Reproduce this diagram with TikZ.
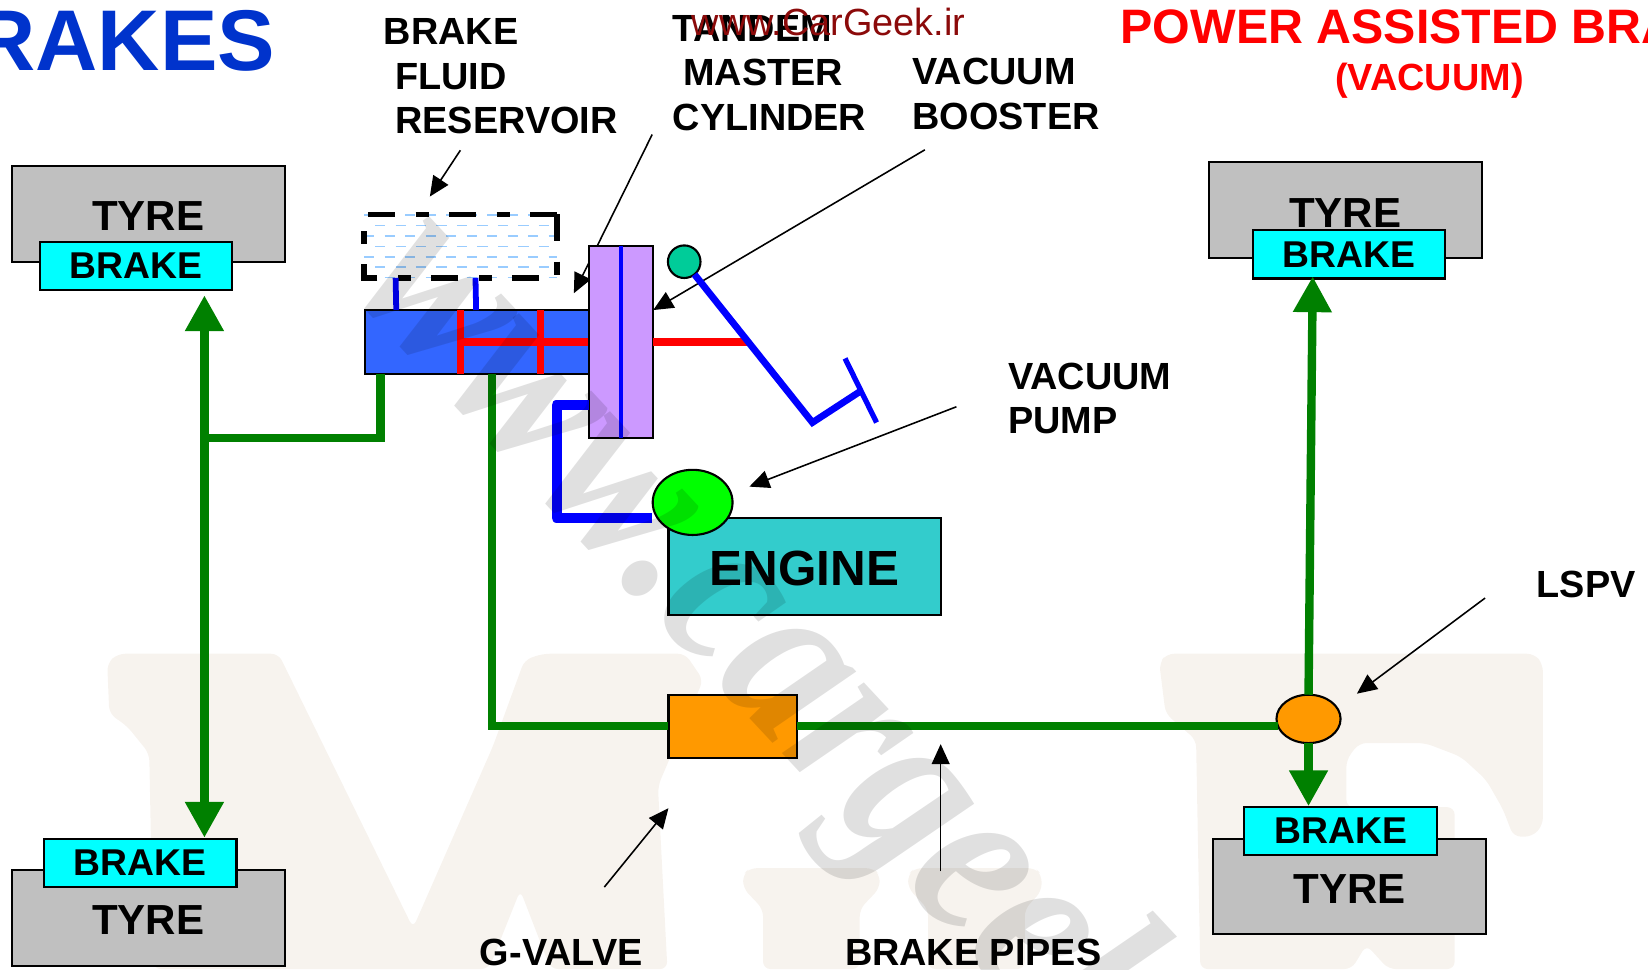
\documentclass[tikz,border=0pt]{standalone}
\usepackage{xcolor,tikz}
\usepackage{fontspec}
\setmainfont{Liberation Sans}
\newfontfamily\markfont{Liberation Serif}
\usetikzlibrary{positioning,calc,arrows.meta,shapes.geometric}
\definecolor{brkTitleBlue}{HTML}{0033CC}
\definecolor{brkSiteRed}{HTML}{8B0A0A}
\definecolor{brkTyreGrey}{HTML}{C0C0C0}
\definecolor{brkCyan}{HTML}{00FFFF}
\definecolor{brkEngine}{HTML}{33CCCC}
\definecolor{brkOrange}{HTML}{FF9900}
\definecolor{brkCylBlue}{HTML}{3366FF}
\definecolor{brkBoosterPurple}{HTML}{CC99FF}
\definecolor{brkPipeGreen}{HTML}{008000}
\definecolor{brkPivot}{HTML}{00CC99}
\definecolor{brkFluid}{HTML}{99CCFF}
\definecolor{brkBackLetter}{HTML}{F7F3EE}
\def\tyreW{260}   % tyre block width
\def\tyreH{91}    % tyre block height
\def\brakeW{183}  % brake block width
\def\brakeH{46}   % brake block height
\tikzset{
  solid box/.style={
    rectangle, draw=black, line width=2pt, fill=#1,
    inner sep=0pt, outer sep=0pt, anchor=north west,
  },
  tyre box/.style={
    solid box=brkTyreGrey,
    minimum width=\tyreW pt, minimum height=\tyreH pt,
    text height=32pt,
    font=\fontsize{40}{40}\selectfont\bfseries,
  },
  brake box/.style={
    solid box=brkCyan,
    minimum width=\brakeW pt, minimum height=\brakeH pt,
    font=\fontsize{35.5}{35.5}\selectfont\bfseries,
  },
  round part/.style={
    ellipse, draw=black, line width=2pt, fill=#1,
    inner sep=0pt, outer sep=0pt,
  },
  part label/.style={
    anchor=north west, align=left, inner sep=0pt,
    font=\fontsize{36}{42.5}\selectfont\bfseries,
  },
  green pipe/.style={draw=brkPipeGreen, line width=8pt},
  blue line/.style={draw=blue, line width=#1},
  red rod/.style={draw=red, line width=7pt},
  flow tip/.style={{Triangle[length=34pt,width=35pt]}-{Triangle[length=34pt,width=35pt]}},
  flow end/.style={-{Triangle[length=34pt,width=35pt]}},
  callout/.style={
    draw=black, line width=1.5pt,
    -{Triangle[length=19pt,width=17pt]},
  },
  back letter/.style={fill=brkBackLetter, rounded corners=7pt},
}

\begin{document}
\begin{tikzpicture}[x=1pt,y=-1pt]
\useasboundingbox (0,0) rectangle (1568,922);

% --- pale letters behind everything ---
\fill[back letter] (104,679) -- (102,631) -- (112,622) -- (265,622) -- (393,883) -- (469,710) -- (499,628)
  -- (516,622) -- (652,622) -- (669,647) -- (626,748) -- (635,922) -- (524,922) -- (495,847) -- (465,922)
  -- (146,922) -- (142,717) -- (121,691) -- cycle;
\fill[back letter] (707,832) -- (713,826) -- (831,826) -- (837,832) -- (837,845) -- (818,865) -- (818,922)
  -- (726,922) -- (726,865) -- (707,845) -- cycle;
\fill[back letter] (864,832) -- (870,826) -- (985,826) -- (991,832) -- (991,848) -- (975,865) -- (975,922)
  -- (883,922) -- (883,865) -- (864,845) -- cycle;
\fill[back letter] (1103,631) -- (1110,622) -- (1460,622) -- (1468,632) -- (1468,785) -- (1458,796) -- (1440,796)
  -- (1430,770) -- (1414,742) -- (1390,720) -- (1356,707) -- (1293,707) -- (1281,723) -- (1281,768) -- (1384,768)
  -- (1384,922) -- (1321,922) -- (1300,899) -- (1286,922) -- (1142,922) -- (1138,704) -- (1109,679) -- cycle;

% --- titles ---
\node[anchor=base east, inner sep=0pt, text=brkTitleBlue, font=\fontsize{82}{82}\selectfont\bfseries]
  (titleLeft) at (262,67) {RAKES};
\node[anchor=base west, inner sep=0pt, text=red, font=\fontsize{46}{46}\selectfont\bfseries]
  (titleRight) at (1066,41.5) {POWER ASSISTED BRA};
\node[anchor=base, inner sep=0pt, text=red, font=\fontsize{36}{36}\selectfont\bfseries]
  (titleSub) at (1360,86) {(VACUUM)};

% --- tyres and brakes, top left / bottom left / top right / bottom right ---
\node[tyre box] (tyreTL) at (11,158) {TYRE};
\node[brake box] (brakeTL) at (38,230) {BRAKE};
\node[tyre box] (tyreBL) at (11,828) {TYRE};
\node[brake box] (brakeBL) at (42,798) {BRAKE};
\node[tyre box] (tyreTR) at (1150,154.5) {TYRE};
\node[brake box] (brakeTR) at (1192,219) {BRAKE};
\node[tyre box] (tyreBR) at (1154,798) {TYRE};
\node[brake box] (brakeBR) at (1184,767.5) {BRAKE};

% --- callouts that pass behind the parts ---
\coordinate (reservoirTail) at (438,143);
\coordinate (reservoirTip) at (409,187);
\coordinate (tandemTail) at (620.5,128);
\coordinate (tandemTip) at (546,279);
\coordinate (boosterTail) at (880,142.5);
\coordinate (boosterTip) at (621.5,295);
\coordinate (pumpTail) at (910,387);
\coordinate (pumpTip) at (713,463);
\coordinate (lspvTail) at (1413,569);
\coordinate (lspvTip) at (1291,660);
\coordinate (gvalveTail) at (575,844);
\coordinate (gvalveTip) at (636,769);
\coordinate (pipesTail) at (895,829);
\coordinate (pipesTip) at (895,708);
\draw[callout] (reservoirTail) -- (reservoirTip);
\draw[callout] (tandemTail) -- (tandemTip);
\draw[callout] (boosterTail) -- (boosterTip);
\draw[callout] (pumpTail) -- (pumpTip);
\draw[callout] (lspvTail) -- (lspvTip);
\draw[callout] (gvalveTail) -- (gvalveTip);
\draw[callout] (pipesTail) -- (pipesTip);

% --- reservoir with its fluid rows ---
\node[rectangle, inner sep=0pt, outer sep=0pt, anchor=north west,
      minimum width=183.3pt, minimum height=60.3pt]
  (reservoir) at (346.4,204) {};
\foreach \rowY/\rowX/\rowEnd in {204.6/346.4/530,214.6/356.8/523,224.6/346.4/530,234.6/356.8/523,
                                 244.4/346.4/530,254.3/356.8/523,264/346.4/530}{
  \draw[draw=brkFluid, line width=1.5pt, dash pattern=on 9.75pt off 9.75pt]
    (\rowX,\rowY) -- (\rowEnd,\rowY);
}
\draw[draw=black, line width=5.5pt, dash pattern=on 25.5pt off 19.5pt on 12.5pt off 19.5pt]
  (reservoir.north east) -- (reservoir.south east) -- (reservoir.south west) -- (reservoir.north west) -- cycle;

% --- master cylinder, booster, pump, engine ---
\node[solid box=brkCylBlue, minimum width=213pt, minimum height=61pt] (masterCyl) at (347,295) {};
\draw[blue line=5.5pt] ([xshift=30pt]reservoir.south west) -- ([xshift=30pt]masterCyl.north west);
\draw[blue line=5.5pt] ([xshift=106pt]reservoir.south west) -- ([xshift=106pt]masterCyl.north west);
\draw[red rod] ([xshift=91pt]masterCyl.north west) -- ([xshift=91pt]masterCyl.south west);
\draw[red rod] ([xshift=167pt]masterCyl.north west) -- ([xshift=167pt]masterCyl.south west);
\draw[red rod] ([xshift=91pt]masterCyl.west) -- (masterCyl.east);

\node[solid box=brkBoosterPurple, minimum width=61pt, minimum height=183pt] (booster) at (560,234) {};
\draw[blue line=4pt] (booster.north) -- (booster.south);

\coordinate (pedalJoin) at (712,325.5);
\coordinate (pedalKnee) at (773,402);
\coordinate (pedalFoot) at (819,372);
\coordinate (padTop) at (804,341);
\coordinate (padLow) at (834,402);
\node[round part=brkPivot, minimum width=31pt, minimum height=31pt] (pivot) at (651,249) {};
\draw[red rod] (booster.east) -- (pedalJoin);
\draw[blue line=6.5pt, line join=miter] (pivot.-51) -- (pedalKnee) -- (pedalFoot);
\draw[blue line=5pt] (padTop) -- (padLow);

\node[solid box=brkEngine, minimum width=259pt, minimum height=92pt, text height=37pt,
      font=\fontsize{47}{47}\selectfont\bfseries] (engine) at (636,493) {ENGINE};
\coordinate (vacuumIn) at (620.6,493);
\draw[blue line=9.5pt, line join=round] ([yshift=-151pt]booster.north west) -| (529.5,493) -- (vacuumIn);
\node[round part=green, minimum width=76pt, minimum height=62pt] (pump) at (659,478) {};

% --- brake pipes ---
\coordinate (frontJoin) at (197,417);
\coordinate (leftTip) at (194.5,281);
\coordinate (leftLow) at (194.5,797);
\coordinate (rightTip) at (1249,263);
\coordinate (rightLow) at (1245,767);
\node[solid box=brkOrange, minimum width=122pt, minimum height=60pt] (gValve) at (636,661) {};
\node[round part=brkOrange, minimum width=61pt, minimum height=46pt] (lspv) at (1245,684) {};
\draw[green pipe] ([xshift=15pt]masterCyl.south west) |- (frontJoin);
\draw[green pipe, flow tip] (leftTip) -- (leftLow);
\draw[green pipe] ([xshift=121pt]masterCyl.south west) |- (gValve.west);
\draw[green pipe] (gValve.east) -- (gValve.east -| lspv.195);
\draw[green pipe, flow end] (lspv.north) -- (rightTip);
\draw[green pipe, flow end] (lspv.south) -- (rightLow);

% --- slanted site mark over the parts ---
\node[anchor=base west, inner sep=0pt, rotate=-47, opacity=0.12, text=black,
      font=\fontsize{190}{190}\markfont\bfseries\itshape]
  (siteSlant) at (332,275) {\scalebox{1}[1.18]{www.cargeek.ir}};

% --- labels ---
\node[part label] (lblReservoir) at (365,17.4) {BRAKE\\\hspace*{11pt}FLUID\\\hspace*{11pt}RESERVOIR};
\node[part label] (lblTandem) at (640,14.3) {TANDEM\\\hspace*{10pt}MASTER\\CYLINDER};
\node[part label] (lblBooster) at (868,55.5) {VACUUM\\BOOSTER};
\node[part label] (lblPump) at (959,345) {VACUUM\\PUMP};
\node[part label] (lblLspv) at (1462,543) {LSPV};
\node[part label, anchor=north] (lblGvalve) at (534,893) {G-VALVE};
\node[part label, anchor=north] (lblPipes) at (926,893) {BRAKE PIPES};

\node[anchor=base west, inner sep=0pt, text=brkSiteRed, font=\fontsize{36}{36}\selectfont]
  (siteTop) at (658,34) {www.CarGeek.ir};

\end{tikzpicture}
\end{document}
